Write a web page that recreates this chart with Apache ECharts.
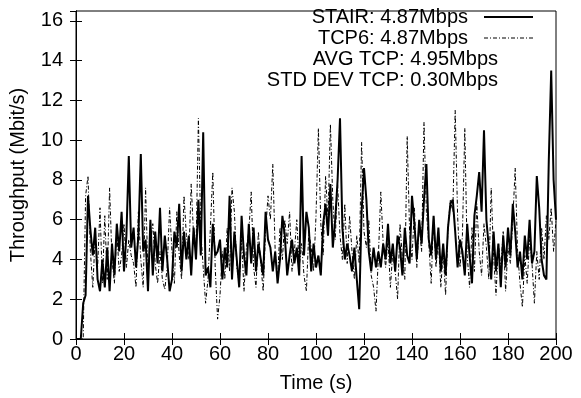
<!DOCTYPE html>
<html><head><meta charset="utf-8">
<script src="https://cdn.jsdelivr.net/npm/echarts@6/dist/echarts.min.js"></script>
<style>html,body{margin:0;padding:0;background:#fff}#c{width:581px;height:398px}</style>
</head><body><div id="c"></div>
<script>
const xTicks = [0,20,40,60,80,100,120,140,160,180,200];
const yTicks = [0,2,4,6,8,10,12,14,16];
const legendLabels = ["STAIR: 4.87Mbps","TCP6: 4.87Mbps","AVG TCP: 4.95Mbps","STD DEV TCP: 0.30Mbps"];
const stair = [0,0,0,1.8,2.2,7.2,5.5,4.2,5.6,3.0,2.4,4.0,2.6,4.6,2.4,4.8,3.2,5.8,4.4,6.4,
3.4,5.2,9.2,4.6,5.6,3.6,5.2,9.3,4.4,5.0,2.4,6.0,3.2,5.4,3.8,6.6,3.4,5.2,4.0,2.4,
3.0,5.4,4.6,6.8,3.4,5.4,4.0,5.2,3.2,5.6,4.0,7.0,4.2,10.4,3.2,3.6,2.6,5.8,4.2,4.4,
5.0,3.0,4.6,3.6,7.2,3.0,5.4,4.0,2.6,6.2,4.2,3.2,5.8,3.8,5.6,3.4,4.8,4.0,3.2,6.4,
5.0,4.6,3.4,4.4,2.8,4.0,6.2,5.2,3.2,4.2,5.0,3.8,4.6,3.2,9.2,4.2,6.4,5.6,3.4,4.8,
3.6,4.2,3.2,5.8,6.8,5.2,7.8,4.6,6.0,8.0,11.1,5.6,4.0,4.8,4.2,3.4,4.6,3.0,1.5,6.4,
8.6,7.0,4.4,3.4,4.6,3.6,4.4,3.6,4.8,4.0,5.8,3.8,4.8,3.4,5.2,4.6,3.2,5.6,4.2,3.8,
7.2,5.8,4.0,6.0,4.8,7.0,8.8,5.0,4.2,6.2,4.0,5.6,3.4,4.8,3.2,5.6,6.8,7.0,5.4,3.6,
5.0,4.4,3.2,5.8,4.2,2.8,6.2,7.2,8.4,6.4,10.5,6.0,4.6,3.0,5.4,3.4,4.8,2.6,5.2,3.6,
5.6,4.2,6.8,5.4,3.6,4.4,3.0,5.2,4.0,6.0,3.8,4.4,8.2,6.6,4.0,3.2,3.0,9.0,13.5,8.0,6.0];
const tcp6 = [0,0,0,0,7.2,8.2,4.4,2.6,5.2,3.6,6.6,2.8,6.2,3.0,7.6,4.0,2.8,5.4,3.4,4.2,
5.8,3.6,5.0,4.2,3.8,2.6,6.4,4.0,2.6,7.6,3.2,4.8,5.8,3.8,2.8,4.4,3.0,2.5,3.6,6.6,
4.4,2.8,6.4,4.2,3.0,7.2,5.2,4.0,7.8,5.2,4.4,11.1,5.4,3.6,1.8,3.0,5.6,8.4,3.6,1.0,
2.2,4.4,3.0,5.6,3.4,7.6,6.4,3.6,2.8,5.0,2.4,4.6,5.4,7.4,3.6,2.6,5.4,3.8,2.4,5.4,
7.2,6.0,8.8,4.4,3.0,5.6,4.0,6.0,4.8,6.4,3.4,4.4,6.0,3.6,4.8,3.2,2.4,5.4,4.6,3.4,
6.2,10.6,5.8,4.2,8.2,6.0,10.8,7.0,5.0,7.8,5.2,4.0,6.8,3.8,6.2,4.4,3.0,5.2,3.8,9.9,
5.4,4.6,6.0,3.2,2.6,1.4,4.2,7.4,4.8,3.6,5.0,2.6,4.4,3.4,2.0,5.8,4.0,3.0,10.2,5.4,
4.0,6.6,3.6,5.8,4.4,10.9,6.4,4.8,2.8,6.2,3.6,5.0,2.6,4.4,2.2,5.6,7.0,6.4,11.5,6.2,
3.6,5.2,10.6,4.2,2.6,5.6,3.4,6.8,4.4,3.2,5.8,4.6,3.0,7.6,4.2,2.2,4.8,3.6,5.4,2.4,
4.6,3.8,6.0,8.6,4.4,2.8,1.6,4.2,2.8,5.0,3.8,1.8,4.4,3.0,5.6,4.0,6.2,5.0,6.6,4.4,6.0];
const times = stair.map((_, i) => i);

const FONT = "Liberation Sans";
const FS = 20;
const chart = echarts.init(document.getElementById('c'), null, {renderer:'canvas'});
const G = {left:76, right:25, top:11, bottom:58};
const tickStyle = {show:true, inside:true, length:6, lineStyle:{color:'#000', width:1}};
const axisLine = {show:true, lineStyle:{color:'#000', width:1}};
const lbl = {color:'#000', fontFamily:FONT, fontSize:FS};
const legTextRight = 468, legLineX0 = 484, legLineX1 = 533;
const legY = [17, 38, 59, 80];
const graphics = legendLabels.map((t, i) => ({
  type:'text', x: (i < 2 ? legTextRight : 498), y: legY[i],
  style:{text:t, fill:'#000', font:FS + 'px "' + FONT + '"', textAlign:'right', textVerticalAlign:'middle'}
}));
graphics.push({type:'line', shape:{x1:legLineX0, y1:legY[0], x2:legLineX1, y2:legY[0]}, style:{stroke:'#000', lineWidth:2}});
graphics.push({type:'line', shape:{x1:legLineX0, y1:legY[1], x2:legLineX1, y2:legY[1]}, style:{stroke:'#000', lineWidth:1, lineDash:[4,2,1,2]}});

chart.setOption({
  animation:false,
  backgroundColor:'#fff',
  grid:{left:G.left, right:G.right, top:G.top, bottom:G.bottom, show:true, borderColor:'#000', borderWidth:1, containLabel:false},
  xAxis:[
    {type:'value', min:0, max:200, interval:20, position:'bottom', axisLine, axisTick:tickStyle,
     splitLine:{show:false}, axisLabel:Object.assign({margin:5, formatter:v=>String(v)}, lbl),
     name:'Time (s)', nameLocation:'middle', nameGap:34, nameTextStyle:{color:'#000', fontFamily:FONT, fontSize:FS}},
    {type:'value', min:0, max:200, interval:20, position:'top', axisLine, axisTick:tickStyle,
     splitLine:{show:false}, axisLabel:{show:false}}
  ],
  yAxis:[
    {type:'value', min:0, max:16.5, interval:2, position:'left', axisLine, axisTick:tickStyle,
     splitLine:{show:false}, axisLabel:Object.assign({margin:13, formatter:v=>String(v)}, lbl),
     name:'Throughput (Mbit/s)', nameLocation:'middle', nameGap:48, nameRotate:90, nameTextStyle:{color:'#000', fontFamily:FONT, fontSize:FS}},
    {type:'value', min:0, max:16.5, interval:2, position:'right', axisLine, axisTick:tickStyle,
     splitLine:{show:false}, axisLabel:{show:false}}
  ],
  series:[
    {name:'STAIR', type:'line', showSymbol:false, symbol:'none', data:times.map((t,i)=>[t, stair[i]]),
     lineStyle:{color:'#000', width:2}, z:3},
    {name:'TCP6', type:'line', showSymbol:false, symbol:'none', data:times.map((t,i)=>[t, tcp6[i]]),
     lineStyle:{color:'#000', width:1, type:[4,2,1,2]}, z:2}
  ],
  graphic:graphics
});
</script></body></html>
